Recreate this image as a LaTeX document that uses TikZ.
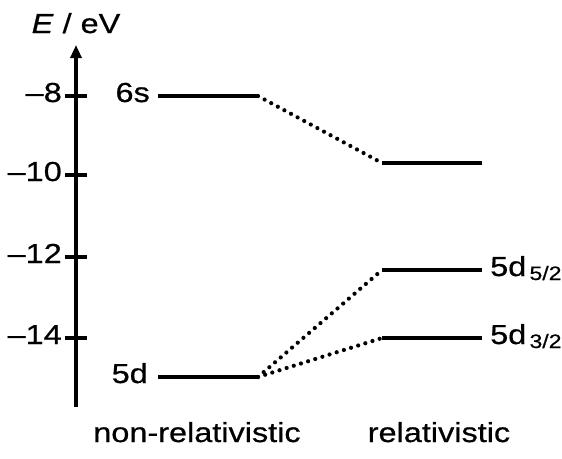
\documentclass[tikz,border=0pt]{standalone}
\usepackage{fontspec}
\setmainfont{Liberation Sans}[FakeStretch=1.18,FakeBold=0.6]
\usetikzlibrary{arrows.meta}
\tikzset{
  lbl/.style={inner sep=0pt, font=\fontsize{27.5}{30}\selectfont},
  level/.style={line width=3.6pt},
  tick/.style={line width=3.4pt},
  link/.style={line width=4.2pt, line cap=round, dash pattern=on 0pt off 7.5pt},
  axis/.style={line width=3.4pt, -{Triangle[width=11pt,length=13pt]}}
}
\newcommand{\subx}[1]{{\fontsize{19.5}{19.5}\selectfont\raisebox{-4pt}{\,#1}}}
\begin{document}
\begin{tikzpicture}[x=1pt,y=-1pt]
\useasboundingbox (0,0) rectangle (562,458);
% axis
\coordinate (axb) at (76,407);
\coordinate (axt) at (76,45);
\draw[axis] (axb) -- (axt);
\node[lbl, anchor=base] (elab) at (76,33) {\textit{E} / eV};
% ticks and labels
\foreach \v/\yy in {8/96,10/175,12/257,14/338}{
  \draw[tick] (65,\yy) -- (87,\yy);
  \node[lbl, anchor=east] (t\v) at (62,\yy) {\strut–\v};
}
% levels
\coordinate (s6L) at (158,96);  \coordinate (s6R) at (258,96);
\coordinate (d5L) at (158,377); \coordinate (d5R) at (258,377);
\coordinate (rsL) at (382,163); \coordinate (rsR) at (482,163);
\coordinate (r5L) at (382,270); \coordinate (r5R) at (482,270);
\coordinate (r3L) at (382,338); \coordinate (r3R) at (482,338);
\draw[level] (s6L) -- (s6R);
\draw[level] (d5L) -- (d5R);
\draw[level] (rsL) -- (rsR);
\draw[level] (r5L) -- (r5R);
\draw[level] (r3L) -- (r3R);
\draw[link] (s6R) -- (rsL);
\draw[link] (d5R) -- (r5L);
\draw[link] (d5R) -- (r3L);
% labels
\node[lbl, anchor=east] (l6s) at (150,96) {\strut 6s};
\node[lbl, anchor=east] (l5d) at (148,377) {\strut 5d};
\node[lbl, anchor=west] (l52) at (490,270) {\strut 5d\subx{5/2}};
\node[lbl, anchor=west] (l32) at (490,338) {\strut 5d\subx{3/2}};
\node[lbl, anchor=base] (nrel) at (197,442) {non-relativistic};
\node[lbl, anchor=base] (rel) at (439,442) {relativistic};
\end{tikzpicture}
\end{document}
